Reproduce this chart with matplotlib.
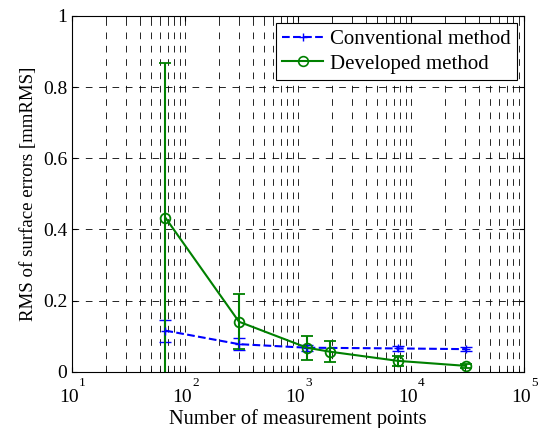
import numpy as np
import matplotlib
matplotlib.use("Agg")
import matplotlib.pyplot as plt
from matplotlib.lines import Line2D
from matplotlib.ticker import FuncFormatter, LogLocator, NullFormatter
from matplotlib.transforms import offset_copy

plt.rcParams['font.family'] = ['Liberation Serif', 'DejaVu Serif']

# data
conv_n = [67, 300, 1200, 7700, 30700]
conv_rms = [0.116, 0.078, 0.068, 0.066, 0.064]
conv_err = [0.031, 0.017, 0.008, 0.007, 0.006]

dev_n = [67, 300, 1200, 1900, 7700, 30700]
dev_rms = [0.433, 0.141, 0.068, 0.057, 0.031, 0.017]
dev_err = [0.435, 0.078, 0.034, 0.029, 0.014, 0.005]

decades = [1, 2, 3, 4, 5]

fig = plt.figure(figsize=(5.38, 4.28), dpi=100)
ax = fig.add_axes([0.134, 0.131, 0.840, 0.832])

ax.errorbar(conv_n, conv_rms, yerr=conv_err, color='blue', ls='--', lw=1.5,
            marker='+', ms=6, capsize=4, elinewidth=1.5)
ax.errorbar(dev_n, dev_rms, yerr=dev_err, color='green', ls='-', lw=1.5,
            marker='o', ms=7, mfc='none', mew=1.3, capsize=4, elinewidth=1.5)

ax.set_xscale('log')
ax.set_xlim(10 ** decades[0], 10 ** decades[-1])
ax.set_ylim(0, 1)
ax.set_yticks(np.arange(0, 1.01, 0.2))
ax.yaxis.set_major_formatter(FuncFormatter(lambda v, p: '%g' % v))
ax.set_xticks([10.0 ** d for d in decades])
ax.xaxis.set_major_formatter(NullFormatter())
ax.xaxis.set_minor_locator(LogLocator(base=10, subs=np.arange(2, 10)))

dash = (0, (8, 8))
ax.grid(True, which='major', color='black', ls=dash, lw=0.6)
ax.xaxis.grid(True, which='minor', color='black', ls=dash, lw=0.6)
ax.tick_params(which='both', direction='in', top=True, right=True, labelsize=14)

# MATLAB-style 10^n labels: big "10", small raised exponent
trans = ax.get_xaxis_transform()
for d in decades:
    t_base = offset_copy(trans, fig=fig, x=4.6, y=-12.5, units='points')
    ax.text(10.0 ** d, 0, '10', transform=t_base, ha='right', va='top',
            fontsize=14)
    t_exp = offset_copy(trans, fig=fig, x=5.0, y=-3.6, units='points')
    ax.text(10.0 ** d, 0, str(d), transform=t_exp, ha='left', va='top',
            fontsize=9.5)

ax.set_xlabel('Number of measurement points', fontsize=14.7)
ax.xaxis.set_label_coords(0.5, -0.103)
ax.set_ylabel('RMS of surface errors [mmRMS]', fontsize=13.6, labelpad=4)

handles = [
    Line2D([], [], color='blue', ls='--', lw=1.5, marker='+', ms=6),
    Line2D([], [], color='green', ls='-', lw=1.5, marker='o', ms=7, mfc='none', mew=1.2),
]
labels = ['Conventional method', 'Developed method']
leg = ax.legend(handles, labels, loc='upper right', fontsize=15, fancybox=False,
                framealpha=1, edgecolor='black', handlelength=2.0, borderpad=0.3,
                labelspacing=0.25, handletextpad=0.3, borderaxespad=0.35)
leg.get_frame().set_linewidth(0.8)

fig.savefig('out.png', dpi=100)
